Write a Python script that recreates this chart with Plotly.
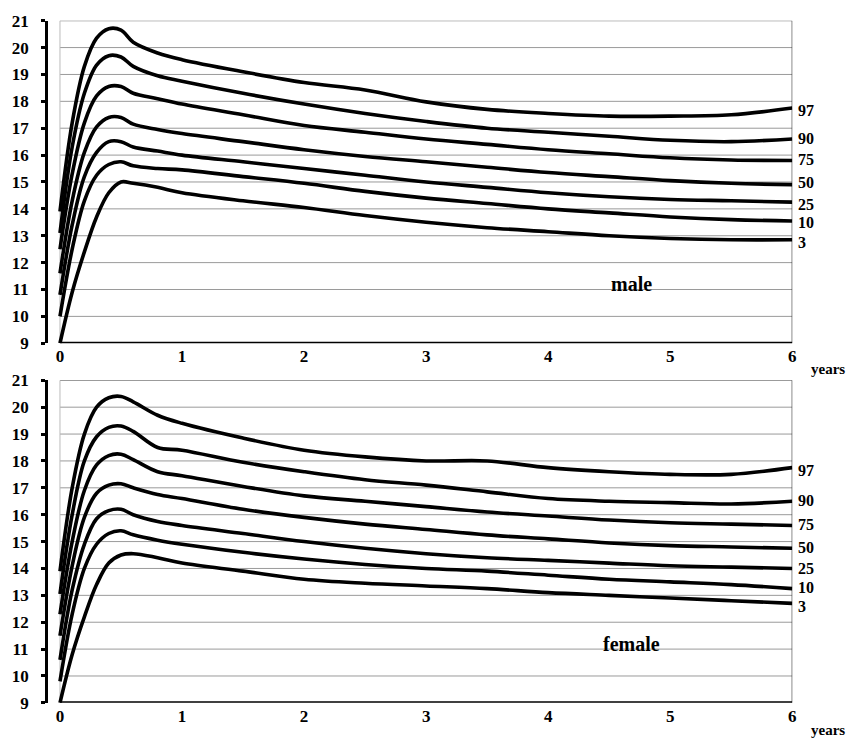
import plotly.graph_objects as go

ages = [0, 0.1, 0.2, 0.3, 0.4, 0.5, 0.6, 0.8, 1, 1.5, 2, 2.5, 3, 3.5, 4, 4.5, 5, 5.5, 6]
percentiles = ["97", "90", "75", "50", "25", "10", "3"]

male = {
    "97": [13.9, 17.2, 19.3, 20.35, 20.7, 20.65, 20.2, 19.8, 19.55, 19.1, 18.7, 18.42, 17.98, 17.7, 17.55, 17.45, 17.45, 17.5, 17.75],
    "90": [13.1, 16.3, 18.3, 19.35, 19.7, 19.65, 19.3, 18.95, 18.75, 18.3, 17.9, 17.55, 17.25, 17.0, 16.85, 16.7, 16.55, 16.5, 16.6],
    "75": [12.5, 15.3, 17.2, 18.2, 18.55, 18.55, 18.3, 18.1, 17.9, 17.5, 17.1, 16.85, 16.6, 16.4, 16.2, 16.05, 15.9, 15.82, 15.8],
    "50": [11.6, 14.3, 16.1, 17.05, 17.4, 17.4, 17.15, 16.95, 16.8, 16.5, 16.2, 15.95, 15.75, 15.55, 15.35, 15.2, 15.05, 14.95, 14.9],
    "25": [10.8, 13.4, 15.2, 16.1, 16.5, 16.5, 16.3, 16.15, 16.0, 15.75, 15.5, 15.25, 15.0, 14.8, 14.6, 14.45, 14.35, 14.3, 14.25],
    "10": [10.0, 12.5, 14.3, 15.25, 15.65, 15.75, 15.6, 15.5, 15.45, 15.2, 14.95, 14.65, 14.4, 14.2, 14.0, 13.85, 13.7, 13.6, 13.55],
    "3":  [9.0, 10.9, 12.4, 13.7, 14.6, 15.0, 14.95, 14.8, 14.6, 14.3, 14.05, 13.75, 13.5, 13.3, 13.15, 13.0, 12.9, 12.85, 12.85],
}

female = {
    "97": [13.9, 17.0, 19.0, 20.0, 20.35, 20.4, 20.2, 19.7, 19.4, 18.85, 18.4, 18.15, 18.0, 18.0, 17.75, 17.6, 17.5, 17.5, 17.75],
    "90": [13.05, 16.0, 18.0, 18.9, 19.25, 19.3, 19.1, 18.5, 18.4, 17.95, 17.6, 17.3, 17.1, 16.85, 16.6, 16.5, 16.45, 16.4, 16.5],
    "75": [12.3, 15.0, 16.9, 17.85, 18.2, 18.25, 18.05, 17.6, 17.45, 17.05, 16.7, 16.5, 16.3, 16.1, 15.95, 15.8, 15.7, 15.65, 15.6],
    "50": [11.5, 14.1, 15.9, 16.8, 17.1, 17.15, 17.0, 16.75, 16.6, 16.2, 15.9, 15.65, 15.45, 15.25, 15.1, 14.95, 14.85, 14.8, 14.75],
    "25": [10.6, 13.2, 14.9, 15.85, 16.15, 16.2, 16.0, 15.75, 15.6, 15.3, 15.0, 14.75, 14.55, 14.4, 14.3, 14.2, 14.1, 14.05, 14.0],
    "10": [9.8, 12.3, 14.0, 14.9, 15.3, 15.4, 15.25, 15.05, 14.9, 14.6, 14.35, 14.15, 14.0, 13.9, 13.75, 13.6, 13.5, 13.4, 13.25],
    "3":  [9.0, 10.8, 12.2, 13.4, 14.2, 14.5, 14.55, 14.4, 14.2, 13.9, 13.6, 13.45, 13.35, 13.25, 13.1, 13.0, 12.9, 12.8, 12.7],
}

x_ticks = [0, 1, 2, 3, 4, 5, 6]
y_ticks = list(range(9, 22))
panel_labels = ["male", "female"]

# small vertical nudges (px, positive = up) so end labels do not collide
male_nudge = {"97": -2, "90": 0, "75": 1, "50": 2, "25": -2, "10": -2, "3": -3}
female_nudge = {"97": -3, "90": 1, "75": 1, "50": 1, "25": 0, "10": 1, "3": -3}

FONT = "Liberation Serif, Times New Roman, serif"
fig = go.Figure()

panels = [(male, "x", "y", male_nudge), (female, "x2", "y2", female_nudge)]
for data, xa, ya, _ in panels:
    for p in percentiles:
        fig.add_trace(go.Scatter(
            x=ages, y=data[p], xaxis=xa, yaxis=ya, mode="lines",
            line=dict(color="black", width=3.6, shape="spline", smoothing=1.0),
            showlegend=False, hoverinfo="skip"))

annotations = []
for (data, xa, ya, nudge), name in zip(panels, panel_labels):
    for p in percentiles:
        annotations.append(dict(
            x=6, y=data[p][-1], xref=xa, yref=ya, text="<b>" + p + "</b>", showarrow=False,
            xanchor="left", xshift=5, yshift=nudge[p], borderpad=0,
            font=dict(family=FONT, size=16, color="black")))
    annotations.append(dict(
        x=4.68, y=11.2, xref=xa, yref=ya, text="<b>" + name + "</b>", showarrow=False,
        font=dict(family=FONT, size=20, color="black")))

for yy in [1 - 369 / 746, 1 - 740 / 746]:
    annotations.append(dict(
        x=832 / 854, y=yy, xref="paper", yref="paper", text="<b>years</b>", showarrow=False,
        xanchor="center", yanchor="middle",
        font=dict(family=FONT, size=15, color="black")))

shapes = []
for xa, ya in [("x", "y"), ("x2", "y2")]:
    for gy in y_ticks[1:-1]:
        shapes.append(dict(type="line", xref=xa, yref=ya, x0=0, x1=6, y0=gy, y1=gy,
                           layer="below", line=dict(color="#9a9a9a", width=1)))
    shapes.append(dict(type="line", xref=xa, yref=ya, x0=0, x1=6, y0=21, y1=21,
                       layer="below", line=dict(color="#555", width=1)))
    shapes.append(dict(type="line", xref=xa, yref=ya, x0=6, x1=6, y0=9, y1=21,
                       layer="below", line=dict(color="#333", width=1.2)))
    shapes.append(dict(type="line", xref=xa, yref=ya, x0=0, x1=0, y0=9, y1=21,
                       layer="below", line=dict(color="#bbb", width=1)))
    shapes.append(dict(type="line", xref=xa, yref=ya, x0=0, x1=6, y0=9, y1=9,
                       line=dict(color="black", width=3)))

xdom = [48 / 854, 796 / 854]
tickfont = dict(family=FONT, size=17, color="black")

def xaxis(anchor):
    return dict(domain=xdom, range=[-0.1, 6], anchor=anchor, showline=False,
                tickvals=x_ticks, ticktext=["<b>%d</b>" % v for v in x_ticks],
                ticks="", showgrid=False,
                zeroline=False, tickfont=tickfont, ticklabelstandoff=1, fixedrange=True)

def yaxis(dom, anchor):
    return dict(domain=dom, range=[9, 21], anchor=anchor,
                showline=True, linewidth=2.5, linecolor="black",
                tickvals=y_ticks, ticktext=["<b>%d</b>" % v for v in y_ticks],
                ticks="outside", ticklen=4, tickwidth=2.5, tickcolor="black",
                showgrid=False, zeroline=False,
                tickfont=tickfont, ticklabelstandoff=9, fixedrange=True)

fig.update_layout(
    width=854, height=746, margin=dict(l=0, r=0, t=0, b=0),
    paper_bgcolor="white", plot_bgcolor="white", showlegend=False,
    xaxis=xaxis("y"), yaxis=yaxis([1 - 343 / 746, 1 - 12 / 746], "x"),
    xaxis2=xaxis("y2"), yaxis2=yaxis([1 - 712 / 746, 1 - 381 / 746], "x2"),
    annotations=annotations, shapes=shapes,
)

fig.write_html("out.html")
